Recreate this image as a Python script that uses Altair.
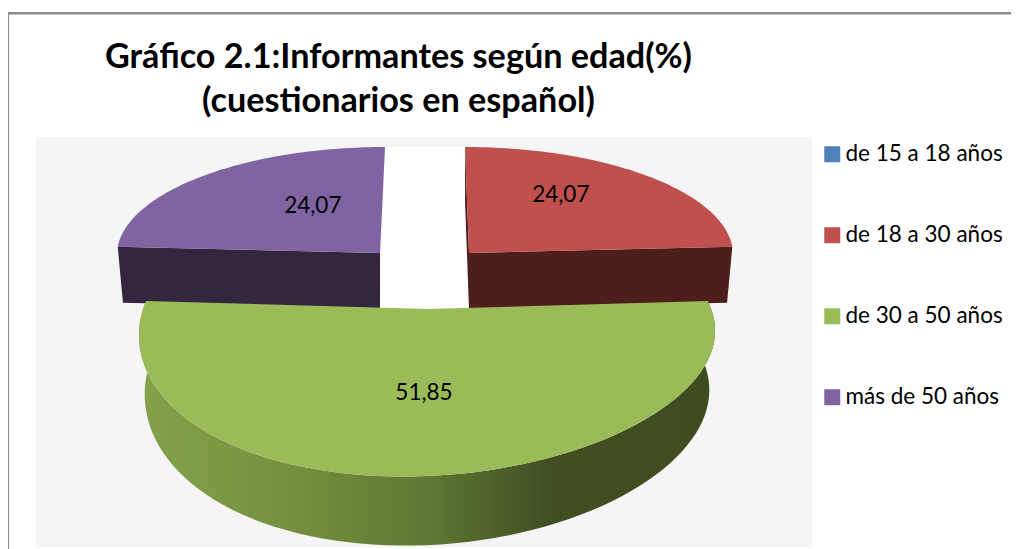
import math
import altair as alt
import pandas as pd

# ---- chart content
categories = ["de 15 a 18 años", "de 18 a 30 años", "de 30 a 50 años", "más de 50 años"]
values = [0.0, 24.07, 51.85, 24.07]
colors = ["#4f81bd", "#c0504d", "#9bbb59", "#8064a2"]
side_colors = ["#2c4563", "#4d1f1c", "#4f6230", "#33273f"]
title_lines = ["Gráfico 2.1:Informantes según edad(%)", "(cuestionarios en español)"]

# ---- layout of the pseudo-3D pie (pixel space of the page)
W, H = 1003, 421
TOP = 128
FONT = "Lato"
SLICE_GEOM = {
    1: dict(ax=469, ay=253, rx=264, ry=106, shear=-4, depth=56, p=0.0, tilt=0),
    2: dict(ax=427, ay=309, rx=284, ry=139, shear=0, depth=57.5, p=0.168, tilt=14),
    3: dict(ax=380, ay=253, rx=263, ry=106, shear=5, depth=56, p=0.0, tilt=0),
}
LABEL_FRAC = {1: (0.515, 0.75), 2: (0.0, 0.5), 3: (0.38, 0.61)}
LABEL_NUDGE = {1: 0, 2: -3, 3: 0}
LOWER_X = 0.98

x_scale = alt.Scale(domain=[8, 8 + W], range=[0, W], nice=False, zero=False)
y_scale = alt.Scale(domain=[TOP + H, TOP], nice=False, zero=False)


def rim(g, t, lower=False, frac_x=1.0, frac_y=1.0):
    s = 1 / (1 + g["p"] * math.cos(t))
    dx = frac_x * g["rx"] * math.sin(t) * s + frac_x * g["shear"] * math.cos(t)
    dy = -frac_y * g["ry"] * math.cos(t) * s
    dy -= g["tilt"] * math.sin(t) * max(0.0, -math.cos(t))
    if lower:
        dx *= LOWER_X
        dy += g["depth"] * s
    return g["ax"] + dx, g["ay"] + dy


def polygon(points, fill):
    df = pd.DataFrame({"px": [p[0] for p in points], "py": [p[1] for p in points],
                       "ord": list(range(len(points)))})
    return alt.Chart(df).mark_line(
        fill=fill, stroke="transparent", strokeWidth=0.6,
        interpolate="linear-closed", clip=False,
    ).encode(
        x=alt.X("px:Q", scale=x_scale, axis=None),
        y=alt.Y("py:Q", scale=y_scale, axis=None),
        order="ord:Q",
    )


def rect(x0, x1, y0, y1, fill):
    df = pd.DataFrame({"a": [x0], "b": [x1], "c": [y0], "d": [y1]})
    return alt.Chart(df).mark_rect(fill=fill).encode(
        x=alt.X("a:Q", scale=x_scale, axis=None), x2="b:Q",
        y=alt.Y("c:Q", scale=y_scale, axis=None), y2="d:Q",
    )


# angles from the values (clockwise from the top)
total = sum(values)
edges = [0.0]
for v in values:
    edges.append(edges[-1] + v / total * 2 * math.pi)


def arc_pts(i, lower=False, n=80):
    g = SLICE_GEOM[i]
    a, b = edges[i], edges[i + 1]
    return [rim(g, a + (b - a) * k / n, lower) for k in range(n + 1)]


def apex(i, lower=False):
    g = SLICE_GEOM[i]
    return (g["ax"], g["ay"] + (g["depth"] if lower else 0))


layers = []

legend_df = pd.DataFrame({"cat": categories, "px": [425] * 4, "py": [400] * 4})
legend_layer = alt.Chart(legend_df).mark_point(filled=True, shape="square", size=1, opacity=1).encode(
    x=alt.X("px:Q", scale=x_scale, axis=None),
    y=alt.Y("py:Q", scale=y_scale, axis=None),
    color=alt.Color(
        "cat:N",
        scale=alt.Scale(domain=categories, range=colors),
        sort=categories,
        legend=alt.Legend(
            title=None, orient="none", legendX=813, legendY=15,
            symbolType="square", symbolSize=256, symbolStrokeWidth=0,
            labelFont=FONT, labelFontSize=22.5, labelColor="#000000", labelOffset=2,
            rowPadding=58, labelLimit=220, symbolOpacity=1,
        ),
    ),
)

# backgrounds and frame
layers.append(rect(36, 812, 137, 547, "#f5f5f5"))
layers.append(polygon([(385, 147), (465, 147), (469, 312), (380, 312)], "#ffffff"))
layers.append(legend_layer)
frame_color = "#8c8c8c"
layers.append(rect(6, 9, 12, 549, frame_color))
layers.append(rect(6, 1019, 12, 14.5, frame_color))

# purple slice
pts = arc_pts(3)
low = arc_pts(3, True)
layers.append(polygon([apex(3), pts[0], low[0], apex(3, True)], side_colors[3]))
layers.append(polygon(pts + [apex(3)], colors[3]))

# red slice
pts = arc_pts(1)
low = arc_pts(1, True)
layers.append(polygon([apex(1), pts[0], low[0], apex(1, True)], side_colors[1]))
layers.append(polygon([apex(1), pts[-1], low[-1], apex(1, True)], side_colors[1]))
layers.append(polygon([apex(1)] + pts, colors[1]))

# green slice: gradient wall, then top face
pts = arc_pts(2)
low = arc_pts(2, True)
wall_fill = alt.Gradient(
    gradient="linear", x1=0, x2=1, y1=0, y2=0,
    stops=[
        alt.GradientStop(offset=0.0, color="#84a24a"),
        alt.GradientStop(offset=0.25, color="#76913f"),
        alt.GradientStop(offset=0.5, color="#5f7733"),
        alt.GradientStop(offset=0.72, color="#404e22"),
        alt.GradientStop(offset=1.0, color="#3f4c20"),
    ],
)
layers.append(polygon(pts + low[::-1], wall_fill))
layers.append(polygon([apex(2)] + pts, colors[2]))

# value labels
lab = []
for i, v in enumerate(values):
    if v == 0:
        continue
    g = SLICE_GEOM[i]
    mid = (edges[i] + edges[i + 1]) / 2
    fx, fy = LABEL_FRAC[i]
    px, py = rim(g, mid, False, fx, fy)
    lab.append({"px": px + LABEL_NUDGE[i], "py": py, "txt": f"{v:.2f}".replace(".", ",")})
layers.append(
    alt.Chart(pd.DataFrame(lab)).mark_text(font=FONT, fontSize=22.5, color="#000000", baseline="middle", align="center").encode(
        x=alt.X("px:Q", scale=x_scale, axis=None),
        y=alt.Y("py:Q", scale=y_scale, axis=None),
        text="txt:N",
    )
)

chart = alt.layer(*layers).properties(
    width=W, height=H,
    padding={"left": 0, "right": 0, "top": TOP - 8, "bottom": 0},
    autosize=alt.AutoSizeParams(type="none"),
    background="#ffffff",
    title=alt.TitleParams(
        text=title_lines, font=FONT, fontSize=34.2, fontWeight="bold", color="#000000",
        anchor="middle", frame="group", dx=-111, dy=107, offset=0, lineHeight=44,
    ),
).configure_view(stroke=None)

chart.save("out.html", embed_options={"renderer": "svg", "actions": False})
